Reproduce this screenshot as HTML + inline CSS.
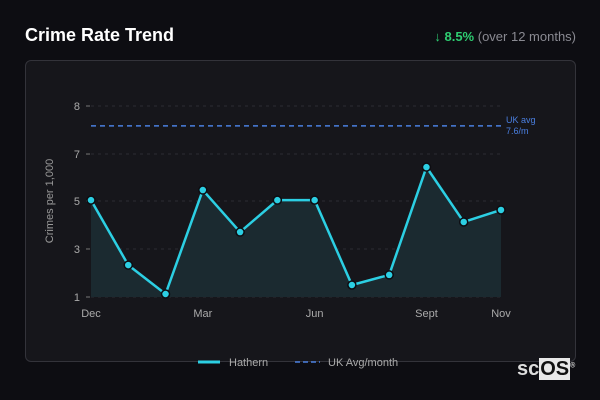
<!DOCTYPE html>
<html><head><meta charset="utf-8"><style>
body{margin:0;width:600px;height:400px;background:#0d0d12;font-family:"Liberation Sans","DejaVu Sans",sans-serif;overflow:hidden;position:relative}
.title{position:absolute;left:25px;top:25px;color:#fff;font-weight:bold;font-size:18px}
.change{position:absolute;right:24px;top:29px;font-size:13px;color:#8a8a92}
.change b{color:#2ecc71}
.card{position:absolute;left:25px;top:60px;width:549px;height:300px;border:1px solid #33333a;border-radius:6px;background:#16161b}
svg{position:absolute;left:0;top:0}
.logo{position:absolute;left:517px;top:358px;font-size:20px;font-weight:bold;color:#ddd}
.logo span{background:#e8e8e8;color:#111;padding:0 1px}
</style></head><body>
<div class="title">Crime Rate Trend</div>
<div class="change"><b>↓ 8.5%</b> (over 12 months)</div>
<div class="card"></div>
<svg id="chart" width="600" height="400"></svg>
<div class="logo">sc<span>OS</span><sup style="font-size:7px">®</sup></div>
<script>
const months=["Dec","Jan","Feb","Mar","Apr","May","Jun","Jul","Aug","Sept","Oct","Nov"];
const values=[4.55,2.17,1.11,4.92,3.38,4.55,4.55,1.44,1.81,5.76,3.75,4.19];
const tickValues=[1,2.76,4.52,6.24,8];
const tickLabels=["1","3","5","7","8"];
const xLabelIdx=[0,3,6,9,11];
const ukAvg=7.27;
const ns="http://www.w3.org/2000/svg";
const svg=document.getElementById('chart');
const x=i=>91+i*(501-91)/(months.length-1);
const y=v=>297-(v-1)*(297-106)/7;
function mk(t,a,p){const e=document.createElementNS(ns,t);for(const k in a)e.setAttribute(k,a[k]);(p||svg).appendChild(e);return e;}
tickValues.forEach((v,i)=>{
 const g=mk('line',{x1:91,x2:501,y1:y(v),y2:y(v),stroke:'#2c2c33','stroke-dasharray':'3,4'});
 
 
 mk('line',{x1:86,x2:90,y1:y(v),y2:y(v),stroke:'#777'});
 const t=mk('text',{x:80,y:y(v)+4,'text-anchor':'end',fill:'#aaa','font-size':11});
 t.textContent=tickLabels[i];
 
 
});
xLabelIdx.forEach(i=>{
 const t=mk('text',{x:x(i),y:317,'text-anchor':'middle',fill:'#aaa','font-size':11});
 t.textContent=months[i];
 
 
});
const yt=mk('text',{x:0,y:0,transform:'translate(53,201) rotate(-90)','text-anchor':'middle',fill:'#999','font-size':11});
yt.textContent='Crimes per 1,000';


let d=values.map((v,i)=>(i?'L':'M')+x(i)+','+y(v)).join(' ');
const area=mk('path',{d:d+` L${x(values.length-1)},${y(1)} L${x(0)},${y(1)} Z`,fill:'#1b2a30'});


const avg=mk('line',{x1:91,x2:501,y1:y(ukAvg),y2:y(ukAvg),stroke:'#4a7fe0','stroke-width':1.5,'stroke-dasharray':'5,4'});


const a1=mk('text',{x:506,y:y(ukAvg)-3,fill:'#4a7fe0','font-size':9});a1.textContent='UK avg';


const a2=mk('text',{x:506,y:y(ukAvg)+8,fill:'#4a7fe0','font-size':9});a2.textContent='7.6/m';


const line=mk('path',{d:d,fill:'none',stroke:'#2ccfe3','stroke-width':2.5,'stroke-linejoin':'round'});


values.forEach((v,i)=>{
 const c=mk('circle',{cx:x(i),cy:y(v),r:4,fill:'#2ccfe3',stroke:'#0d0d12','stroke-width':1.5});
 
 
});
const l1=mk('line',{x1:198,x2:220,y1:362,y2:362,stroke:'#2ccfe3','stroke-width':3});


const lt1=mk('text',{x:229,y:366,fill:'#aaa','font-size':11});lt1.textContent='Hathern';


const l2=mk('line',{x1:295,x2:320,y1:362,y2:362,stroke:'#4a7fe0','stroke-width':1.5,'stroke-dasharray':'5,3'});


const lt2=mk('text',{x:328,y:366,fill:'#aaa','font-size':11});lt2.textContent='UK Avg/month';


</script>
</body></html>
